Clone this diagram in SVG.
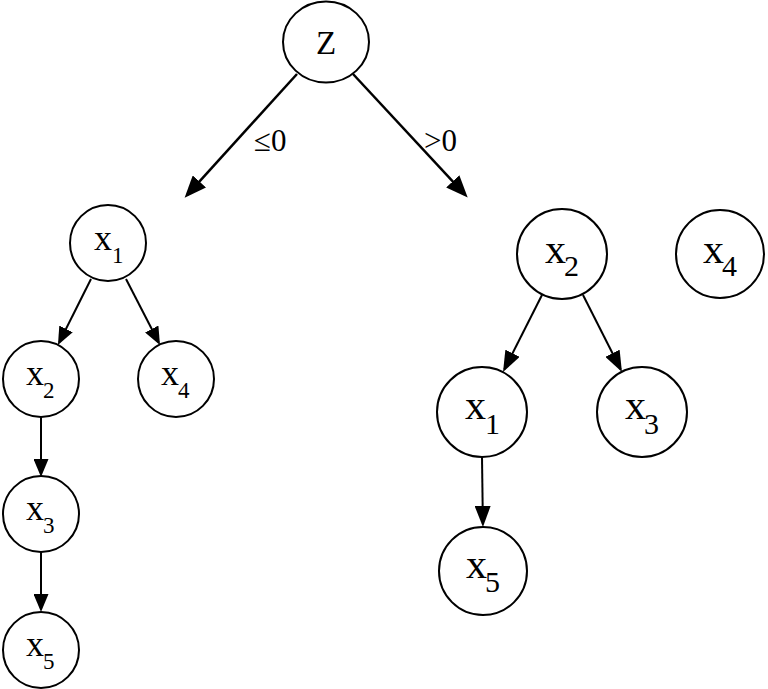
<svg xmlns="http://www.w3.org/2000/svg" width="768" height="689" viewBox="0 0 768 689">
<style>
.n{fill:#fff;stroke:#000;stroke-width:2}
.e{stroke:#000;fill:none}
.t{font-family:"Liberation Serif","Times New Roman",serif;fill:#000}
.l{font-size:36px}
.ls{font-size:23px}
.r{font-size:42px}
.rs{font-size:30px}
</style>
<defs>
<marker id="big" markerUnits="userSpaceOnUse" viewBox="0 0 22 18" refX="18" refY="9" markerWidth="22" markerHeight="18" orient="auto"><path d="M0,0 L22,9 L0,18 z" fill="#000"/></marker>
<marker id="sm" markerUnits="userSpaceOnUse" viewBox="0 0 18 15" refX="15" refY="7.5" markerWidth="18" markerHeight="15" orient="auto"><path d="M0,0 L18,7.5 L0,15 z" fill="#000"/></marker>
<marker id="md" markerUnits="userSpaceOnUse" viewBox="0 0 21 16" refX="18" refY="8" markerWidth="21" markerHeight="16" orient="auto"><path d="M0,0 L21,8 L0,16 z" fill="#000"/></marker>
</defs>
<rect width="768" height="689" fill="#fff"/>
<g id="connectors">
<line class="e" stroke-width="2.5" x1="297" y1="74" x2="187.3" y2="194.8" marker-end="url(#big)"/>
<line class="e" stroke-width="2.5" x1="353" y1="74" x2="465" y2="194.6" marker-end="url(#big)"/>
<line class="e" stroke-width="2" x1="91" y1="279" x2="59.3" y2="342.3" marker-end="url(#sm)"/>
<line class="e" stroke-width="2" x1="126" y1="279" x2="158.6" y2="342.3" marker-end="url(#sm)"/>
<line class="e" stroke-width="2" x1="41" y1="417" x2="41" y2="474" marker-end="url(#sm)"/>
<line class="e" stroke-width="2" x1="41" y1="552" x2="41" y2="609" marker-end="url(#sm)"/>
<line class="e" stroke-width="2" x1="542" y1="295" x2="504.4" y2="369.3" marker-end="url(#md)"/>
<line class="e" stroke-width="2" x1="583" y1="295" x2="620.6" y2="369.3" marker-end="url(#md)"/>
<line class="e" stroke-width="2" x1="482" y1="457" x2="482.9" y2="524" marker-end="url(#md)"/>
<text class="t" font-size="31" x="254" y="151">≤0</text>
<text class="t" font-size="31" x="424" y="151">&gt;0</text>
</g>
<g id="nZ"><ellipse class="n" cx="326" cy="42" rx="43" ry="40.5"/><text class="t" font-size="33" x="326" y="54" text-anchor="middle">Z</text></g>
<g id="nL1"><circle class="n" cx="108" cy="243" r="38"/><text class="t l" x="94" y="250">x</text><text class="t ls" x="112" y="263">1</text></g>
<g id="nL2"><circle class="n" cx="41" cy="379" r="38"/><text class="t l" x="26" y="385">x</text><text class="t ls" x="43" y="398">2</text></g>
<g id="nL4"><circle class="n" cx="176" cy="379" r="38"/><text class="t l" x="161" y="385">x</text><text class="t ls" x="178" y="398">4</text></g>
<g id="nL3"><circle class="n" cx="41" cy="514" r="38"/><text class="t l" x="26" y="520">x</text><text class="t ls" x="43" y="533">3</text></g>
<g id="nL5"><circle class="n" cx="41" cy="650" r="38"/><text class="t l" x="26" y="656">x</text><text class="t ls" x="43" y="669">5</text></g>
<g id="nR2"><circle class="n" cx="562" cy="254" r="45"/><text class="t r" x="545" y="263">x</text><text class="t rs" x="564" y="276">2</text></g>
<g id="nR4"><circle class="n" cx="720" cy="254" r="44"/><text class="t r" x="703" y="263">x</text><text class="t rs" x="722" y="276">4</text></g>
<g id="nR1"><circle class="n" cx="482" cy="412" r="45"/><text class="t r" x="465" y="419">x</text><text class="t rs" x="485" y="434">1</text></g>
<g id="nR3"><circle class="n" cx="642" cy="412" r="45"/><text class="t r" x="625" y="419">x</text><text class="t rs" x="644" y="434">3</text></g>
<g id="nR5"><circle class="n" cx="483" cy="571" r="44"/><text class="t r" x="466" y="578">x</text><text class="t rs" x="485" y="592">5</text></g>
</svg>
